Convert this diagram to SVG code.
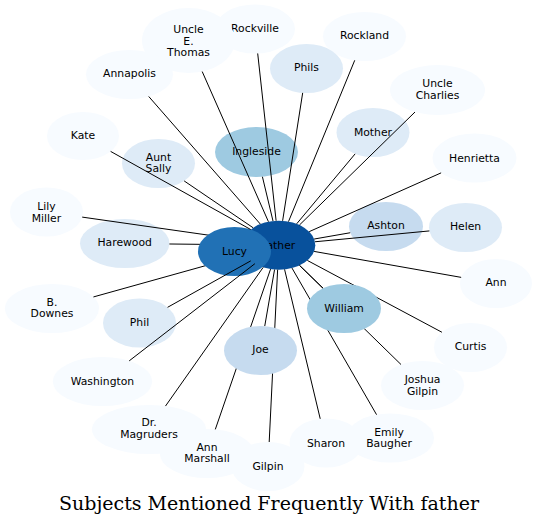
<svg xmlns="http://www.w3.org/2000/svg" width="537" height="528" viewBox="0 0 537 528">
<style>
text.l{font-family:"DejaVu Sans",sans-serif;font-size:10.8px;text-anchor:middle;fill:#000}
text.t{font-family:"DejaVu Serif",serif;font-size:19px;text-anchor:middle;fill:#000}
.e line{stroke:#000;stroke-width:1;fill:none}
.c0{fill:#08519c}.c1{fill:#2171b5}.c2{fill:#9ecae1}.c3{fill:#c6dbef}.c4{fill:#deebf7}.c5{fill:#f7fbff}
</style>
<rect width="537" height="528" fill="#fff"/>
<g id="node-father"><ellipse class="c0" cx="278.8" cy="245.2" rx="36.5" ry="24.5"/><text class="l" x="279" y="248.5">father</text></g>
<g id="node-rockville"><ellipse class="c5" cx="255" cy="29" rx="40" ry="24.5"/><text class="l" x="255" y="32.3">Rockville</text></g>
<g id="node-uncle-e-thomas"><ellipse class="c5" cx="188.5" cy="40.5" rx="46.5" ry="32.5"/><text class="l" x="188.5" y="33">Uncle<tspan x="188.5" y="44.7">E.</tspan><tspan x="188.5" y="56.3">Thomas</tspan></text></g>
<g id="node-annapolis"><ellipse class="c5" cx="129.5" cy="74.5" rx="43.5" ry="24.5"/><text class="l" x="129.5" y="76.8">Annapolis</text></g>
<g id="node-rockland"><ellipse class="c5" cx="364.5" cy="36.5" rx="41.5" ry="24.5"/><text class="l" x="364.5" y="39">Rockland</text></g>
<g id="node-phils"><ellipse class="c4" cx="306.5" cy="68.5" rx="36.5" ry="24.5"/><text class="l" x="306.5" y="71.3">Phils</text></g>
<g id="node-uncle-charlies"><ellipse class="c5" cx="437.5" cy="90" rx="47.5" ry="25"/><text class="l" x="437.5" y="86.8">Uncle<tspan x="437.5" y="98.6">Charlies</tspan></text></g>
<g id="node-mother"><ellipse class="c4" cx="373" cy="132.5" rx="36.5" ry="24.5"/><text class="l" x="373" y="135.5">Mother</text></g>
<g id="node-kate"><ellipse class="c5" cx="83" cy="136" rx="36" ry="24"/><text class="l" x="83" y="139">Kate</text></g>
<g id="node-aunt-sally"><ellipse class="c4" cx="158.5" cy="163.5" rx="36.5" ry="24.5"/><text class="l" x="158.5" y="160.7">Aunt<tspan x="158.5" y="172.3">Sally</tspan></text></g>
<g id="node-ingleside"><ellipse class="c2" cx="256.5" cy="152" rx="41.5" ry="25"/><text class="l" x="256.5" y="155">Ingleside</text></g>
<g id="node-henrietta"><ellipse class="c5" cx="474.5" cy="158" rx="42" ry="24.5"/><text class="l" x="474.5" y="161.5">Henrietta</text></g>
<g id="node-lily-miller"><ellipse class="c5" cx="46.5" cy="212" rx="36.5" ry="24.5"/><text class="l" x="46.5" y="210">Lily<tspan x="46.5" y="221.6">Miller</tspan></text></g>
<g id="node-harewood"><ellipse class="c4" cx="124.7" cy="243.5" rx="44.7" ry="24.5"/><text class="l" x="124.7" y="246.3">Harewood</text></g>
<g id="node-ashton"><ellipse class="c3" cx="386" cy="226.5" rx="37" ry="24.5"/><text class="l" x="386" y="229">Ashton</text></g>
<g id="node-helen"><ellipse class="c4" cx="465.5" cy="227.5" rx="36.5" ry="24.5"/><text class="l" x="465.5" y="229.7">Helen</text></g>
<g id="node-ann"><ellipse class="c5" cx="496" cy="283.5" rx="36" ry="24.5"/><text class="l" x="496" y="285.7">Ann</text></g>
<g id="node-b-downes"><ellipse class="c5" cx="52" cy="308.5" rx="47" ry="24.5"/><text class="l" x="52" y="305.7">B.<tspan x="52" y="317.3">Downes</tspan></text></g>
<g id="node-phil"><ellipse class="c4" cx="139.5" cy="323" rx="36.5" ry="24.5"/><text class="l" x="139.5" y="325.7">Phil</text></g>
<g id="node-washington"><ellipse class="c5" cx="102.5" cy="381.5" rx="49.5" ry="24.5"/><text class="l" x="102.5" y="384.7">Washington</text></g>
<g id="node-curtis"><ellipse class="c5" cx="470.5" cy="347.5" rx="36.5" ry="24.5"/><text class="l" x="470.5" y="349.7">Curtis</text></g>
<g id="node-joshua-gilpin"><ellipse class="c5" cx="422.5" cy="385.5" rx="41.5" ry="24.5"/><text class="l" x="422.5" y="383.2">Joshua<tspan x="422.5" y="394.8">Gilpin</tspan></text></g>
<g id="node-ann-marshall"><ellipse class="c5" cx="207" cy="453.5" rx="47" ry="24.5"/><text class="l" x="207" y="450.7">Ann<tspan x="207" y="462.3">Marshall</tspan></text></g>
<g id="node-dr-magruders"><ellipse class="c5" cx="149" cy="429.5" rx="57" ry="24.5"/><text class="l" x="149" y="426.3">Dr.<tspan x="149" y="438">Magruders</tspan></text></g>
<g id="node-gilpin"><ellipse class="c5" cx="268" cy="466.5" rx="36.5" ry="24.5"/><text class="l" x="268" y="470">Gilpin</text></g>
<g id="node-sharon"><ellipse class="c5" cx="326" cy="443" rx="36.5" ry="24.5"/><text class="l" x="326" y="447.3">Sharon</text></g>
<g id="node-emily-baugher"><ellipse class="c5" cx="390" cy="438" rx="44" ry="24.5"/><text class="l" x="389" y="435.7">Emily<tspan x="389" y="447.3">Baugher</tspan></text></g>
<g id="edges-under" class="e">
<line x1="82.20" y1="217.10" x2="243.10" y2="240.10"/>
<line x1="169.39" y1="243.99" x2="242.31" y2="244.80"/>
<line x1="93.43" y1="296.94" x2="245.10" y2="254.61"/>
<line x1="215.31" y1="429.39" x2="270.57" y2="269.07"/>
<line x1="269.20" y1="442.01" x2="277.61" y2="269.69"/>
<line x1="401.03" y1="364.53" x2="299.48" y2="265.39"/>
<line x1="376.55" y1="414.67" x2="291.98" y2="268.05"/>
<line x1="441.93" y1="332.25" x2="307.37" y2="260.45"/>
<line x1="264.73" y1="326.16" x2="274.57" y2="269.54"/>
<line x1="323.15" y1="288.26" x2="299.56" y2="265.35"/>
</g>
<g id="node-lucy"><ellipse class="c1" cx="234.5" cy="251.5" rx="36.5" ry="24.5"/><text class="l" x="234.5" y="254.7">Lucy</text></g>
<g id="node-joe"><ellipse class="c3" cx="260.5" cy="350.5" rx="36.5" ry="24.5"/><text class="l" x="260.5" y="353.3">Joe</text></g>
<g id="node-william"><ellipse class="c2" cx="344" cy="308.5" rx="37" ry="24.5"/><text class="l" x="344" y="311.7">William</text></g>
<g id="edges" class="e">
<line x1="202.20" y1="71.56" x2="268.44" y2="221.71"/>
<line x1="257.69" y1="53.45" x2="276.11" y2="220.77"/>
<line x1="148.72" y1="96.48" x2="260.32" y2="224.07"/>
<line x1="354.72" y1="60.31" x2="288.50" y2="221.58"/>
<line x1="302.68" y1="92.87" x2="282.62" y2="220.83"/>
<line x1="414.99" y1="112.02" x2="299.46" y2="225.00"/>
<line x1="355.14" y1="153.87" x2="296.66" y2="223.83"/>
<line x1="110.61" y1="151.40" x2="250.72" y2="229.54"/>
<line x1="184.16" y1="180.93" x2="253.14" y2="227.77"/>
<line x1="262.42" y1="176.74" x2="273.01" y2="221.01"/>
<line x1="441.12" y1="172.87" x2="309.21" y2="231.65"/>
<line x1="350.22" y1="232.74" x2="314.13" y2="239.04"/>
<line x1="429.36" y1="230.93" x2="314.94" y2="241.77"/>
<line x1="461.15" y1="277.36" x2="314.10" y2="251.42"/>
<line x1="167.56" y1="307.33" x2="250.74" y2="260.87"/>
<line x1="129.19" y1="360.87" x2="254.87" y2="263.70"/>
<line x1="165.51" y1="406.05" x2="263.20" y2="267.35"/>
<line x1="320.23" y1="418.81" x2="284.57" y2="269.39"/>
</g>
<text class="t" x="269" y="509.5">Subjects Mentioned Frequently With father</text>
</svg>
